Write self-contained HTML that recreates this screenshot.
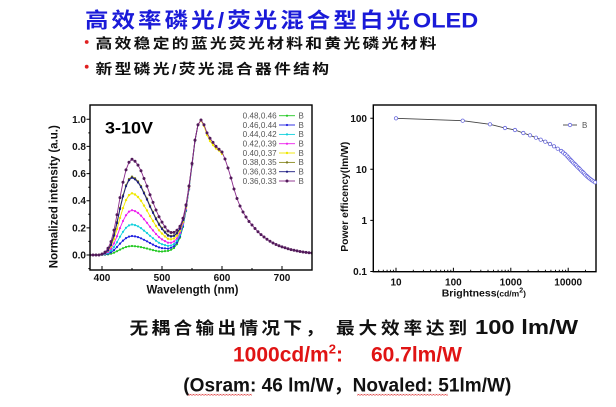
<!DOCTYPE html>
<html><head><meta charset="utf-8">
<style>
html,body{margin:0;padding:0;background:#fff;width:616px;height:407px;overflow:hidden}
svg{display:block}
text{font-family:"Liberation Sans","Noto Sans CJK SC",sans-serif}
.cj{font-family:"Liberation Sans","Noto Sans CJK SC",sans-serif;font-weight:bold}
polyline{fill:none;stroke-width:0.9}
</style></head>
<body>
<svg width="616" height="407" viewBox="0 0 616 407" xmlns="http://www.w3.org/2000/svg">
<defs>
<marker id="mG" markerUnits="userSpaceOnUse" markerWidth="4" markerHeight="4" refX="2" refY="2"><circle cx="2" cy="2" r="1.1" fill="#22c822"/></marker>
<marker id="mB" markerUnits="userSpaceOnUse" markerWidth="4" markerHeight="4" refX="2" refY="2"><circle cx="2" cy="2" r="1.1" fill="#1e1ee0"/></marker>
<marker id="mC" markerUnits="userSpaceOnUse" markerWidth="4" markerHeight="4" refX="2" refY="2"><circle cx="2" cy="2" r="1.1" fill="#10d0dc"/></marker>
<marker id="mM" markerUnits="userSpaceOnUse" markerWidth="4" markerHeight="4" refX="2" refY="2"><circle cx="2" cy="2" r="1.1" fill="#ee20ee"/></marker>
<marker id="mY" markerUnits="userSpaceOnUse" markerWidth="4" markerHeight="4" refX="2" refY="2"><circle cx="2" cy="2" r="1.2" fill="#f0e800"/></marker>
<marker id="mO" markerUnits="userSpaceOnUse" markerWidth="4" markerHeight="4" refX="2" refY="2"><circle cx="2" cy="2" r="1.2" fill="#7a7a20"/></marker>
<marker id="mN" markerUnits="userSpaceOnUse" markerWidth="4" markerHeight="4" refX="2" refY="2"><circle cx="2" cy="2" r="1.1" fill="#1a1a80"/></marker>
<marker id="mP" markerUnits="userSpaceOnUse" markerWidth="5" markerHeight="5" refX="2.5" refY="2.5"><circle cx="2.5" cy="2.5" r="1.5" fill="#521a5a"/></marker>
<marker id="mR" markerUnits="userSpaceOnUse" markerWidth="6" markerHeight="6" refX="3" refY="3"><circle cx="3" cy="3" r="1.7" fill="#fff" stroke="#6666dd" stroke-width="0.8"/></marker>
<clipPath id="cl"><rect x="90" y="105" width="222" height="165"/></clipPath>
<pattern id="wv" width="3" height="2" patternUnits="userSpaceOnUse"><path d="M0,1.5 L1.5,0.3 L3,1.5" fill="none" stroke="#e04848" stroke-width="0.7"/></pattern>
</defs>

<!-- Title -->
<text class="cj" transform="translate(85,27.5) scale(1.12,1)" font-size="21" letter-spacing="2.7" fill="#1a1ad8">高效率磷光/荧光混合型白光<tspan letter-spacing="0">OLED</tspan></text>

<!-- bullets -->
<circle cx="86.7" cy="42" r="1.9" fill="#e02020"/>
<text class="cj" transform="translate(95.5,48.5) scale(1.2,1)" font-size="14" letter-spacing="1.9" fill="#111">高效稳定的蓝光荧光材料和黄光磷光材料</text>
<circle cx="86.7" cy="66.7" r="1.9" fill="#e02020"/>
<text class="cj" transform="translate(95.5,74) scale(1.2,1)" font-size="14" letter-spacing="1.9" fill="#111">新型磷光/荧光混合器件结构</text>

<!-- ============ LEFT CHART ============ -->
<g clip-path="url(#cl)">
<polyline stroke="#22c822" marker-start="url(#mG)" marker-mid="url(#mG)" marker-end="url(#mG)" points="90,255 93,255 96,255 99,255 102,254.9 105,254.7 108,254.4 111,253.7 114,252.7 117,251.2 120,249.6 123,248.2 126,247 129,246.3 132,246 135,246.2 138,246.6 141,247.1 144,247.8 147,248.5 150,249.4 153,250.1 156,250.8 159,251.4 162,251.5 165,251.1 168,250.9 171,249.8 174,248 177,244.1 180,237.6 183,227 186,211 189,189.5 192,165.3 195,140.9 198,124.7"/>
<polyline stroke="#1e1ee0" marker-start="url(#mB)" marker-mid="url(#mB)" marker-end="url(#mB)" points="90,255 93,255 96,255 99,255 102,254.8 105,254.4 108,253.7 111,252.3 114,250.1 117,247 120,243.6 123,240.6 126,238.1 129,236.6 132,236 135,236.4 138,237.1 141,238.3 144,239.8 147,241.3 150,243 153,244.6 156,246.1 159,247.4 162,248.1 165,248.3 168,248.6 171,247.8 174,246.2 177,242.5 180,236.3 183,226 186,210.3 189,189.1 192,165.1 195,140.8 198,124.7"/>
<polyline stroke="#10d0dc" marker-start="url(#mC)" marker-mid="url(#mC)" marker-end="url(#mC)" points="90,255 93,255 96,255 99,255 102,254.7 105,254.1 108,252.9 111,250.7 114,247.1 117,242.2 120,236.7 123,231.8 126,227.8 129,225.4 132,224.5 135,225.1 138,226.3 141,228.1 144,230.6 147,233 150,235.8 153,238.2 156,240.7 159,242.8 162,244.2 165,245.1 168,245.9 171,245.5 174,244.1 177,240.6 180,234.8 183,224.8 186,209.4 189,188.6 192,164.8 195,140.7 198,124.7"/>
<polyline stroke="#ee20ee" marker-start="url(#mM)" marker-mid="url(#mM)" marker-end="url(#mM)" points="90,255 93,255 96,255 99,255 102,254.6 105,253.7 108,251.9 111,248.7 114,243.4 117,236.2 120,228.1 123,221 126,215.2 129,211.6 132,210.2 135,211.1 138,212.9 141,215.6 144,219.2 147,222.8 150,226.8 153,230.4 156,234 159,237.1 162,239.4 165,241.1 168,242.7 171,242.7 174,241.5 177,238.3 180,232.9 183,223.4 186,208.5 189,188.1 192,164.5 195,140.6 198,124.7"/>
<polyline stroke="#f0e800" marker-start="url(#mY)" marker-mid="url(#mY)" marker-end="url(#mY)" points="90,255 93,255 96,255 99,255 102,254.4 105,253.2 108,250.7 111,246.4 114,239 117,229.1 120,218 123,208.1 126,200.1 129,195.1 132,193.3 135,194.5 138,197 141,200.7 144,205.6 147,210.5 150,216.1 153,221 156,226 159,230.3 162,233.6 165,236.4 168,238.8 171,239.3 174,238.5 177,235.6 180,230.7 183,221.7 186,207.3 189,187.4 192,164.2 195,140.4 198,124.7 201,120.5 204,126 207,135 210,141 213,145 216,148.5 219,150.5 222,154"/>
<polyline stroke="#8a8a20" marker-start="url(#mO)" marker-mid="url(#mO)" marker-end="url(#mO)" points="90,255 93,255 96,255 99,255 102,254.2 105,252.7 108,249.5 111,244 114,234.6 117,222.1 120,208 123,195.5 126,185.3 129,179.1 132,176.7 135,178.3 138,181.4 141,186.1 144,192.4 147,198.6 150,205.7 153,211.9 156,218.2 159,223.7 162,228 165,231.7 168,235 171,236 174,235.5 177,233 180,228.5 183,220 186,206.1 189,186.7 192,163.9 195,140.2 198,124.7"/>
<polyline stroke="#1a1a80" marker-start="url(#mN)" marker-mid="url(#mN)" marker-end="url(#mN)" points="90,255 93,255 96,255 99,255 102,254.4 105,253.3 108,250.4 111,245 114,235.6 117,223.1 120,209 123,196.5 126,186.3 129,180.1 132,177.7 135,179.3 138,182.4 141,187.1 144,193.4 147,199.6 150,206.7 153,212.9 156,219.2 159,224.7 162,229 165,232.5 168,235.6 171,236.5 174,235.9 177,233.3 180,228.7 183,220.1 186,206.1 189,186.7 192,163.9 195,140.2 198,124.7"/>
<polyline stroke="#8a2a8a" stroke-width="1" marker-start="url(#mP)" marker-mid="url(#mP)" marker-end="url(#mP)" points="90,255 93,255 96,255 99,255 102,254 105,252.1 108,248.3 111,241.6 114,230.1 117,214.8 120,197.6 123,182.3 126,169.9 129,162.2 132,159.3 135,161.2 138,165.1 141,170.8 144,178.5 147,186.1 150,194.7 153,202.4 156,210 159,216.7 162,222.1 165,226.9 168,231 171,232.5 174,232.4 177,230.2 180,226.3 183,218.3 186,204.9 189,186 192,163.5 195,140.1 198,124.7 201,120 204,124.7 207,132.9 210,138.3 213,142.4 216,146.4 219,149.2 222,152 225,159 228,168 231,178 234,189 237,198.5 240,206 243,212 246,217 249,221.5 252,225 255,228.5 258,231.8 261,234.6 264,237 267,239.3 270,241.3 273,243 276,244.5 279,245.8 282,246.9 285,247.8 288,248.8 291,249.6 294,250.3 297,250.9 300,251.5 303,252 306,252.4 309,252.7 312,253"/>
</g>

<rect x="90" y="105" width="222" height="165" fill="none" stroke="#000" stroke-width="1.4"/>
<path d="M86.5,255H90M86.5,227.9H90M86.5,200.7H90M86.5,173.6H90M86.5,146.4H90M86.5,119.3H90M88.3,268.6H90M88.3,241.4H90M88.3,214.3H90M88.3,187.2H90M88.3,160H90M88.3,132.9H90M102,270V266M162,270V266M222,270V266M282,270V266M132,270V268M192,270V268M252,270V268" stroke="#000" stroke-width="1"/>

<g font-size="10" font-weight="bold" fill="#111" text-anchor="end">
<text x="86" y="122.8">1.0</text>
<text x="86" y="149.9">0.8</text>
<text x="86" y="177.1">0.6</text>
<text x="86" y="204.2">0.4</text>
<text x="86" y="231.4">0.2</text>
<text x="86" y="258.5">0.0</text>
</g>
<g font-size="10" font-weight="bold" fill="#111" text-anchor="middle">
<text x="102" y="281">400</text>
<text x="162" y="281">500</text>
<text x="222" y="281">600</text>
<text x="282" y="281">700</text>
</g>
<text x="146.5" y="293.5" font-size="11.5" font-weight="bold" fill="#111" textLength="92" lengthAdjust="spacingAndGlyphs">Wavelength (nm)</text>
<text transform="translate(57.3,196.7) rotate(-90)" x="-71.5" y="0" font-size="11.5" font-weight="bold" fill="#111" textLength="143" lengthAdjust="spacingAndGlyphs">Normalized intensity (a.u.)</text>
<text x="105" y="133.3" font-size="17" font-weight="bold" fill="#000" textLength="48" lengthAdjust="spacingAndGlyphs">3-10V</text>

<!-- left legend -->
<g font-size="8" fill="#555">
<text x="242.7" y="118.5" textLength="34" lengthAdjust="spacingAndGlyphs">0.48,0.46</text>
<text x="242.7" y="127.8" textLength="34" lengthAdjust="spacingAndGlyphs">0.46,0.44</text>
<text x="242.7" y="137.2" textLength="34" lengthAdjust="spacingAndGlyphs">0.44,0.42</text>
<text x="242.7" y="146.5" textLength="34" lengthAdjust="spacingAndGlyphs">0.42,0.39</text>
<text x="242.7" y="155.8" textLength="34" lengthAdjust="spacingAndGlyphs">0.40,0.37</text>
<text x="242.7" y="165.2" textLength="34" lengthAdjust="spacingAndGlyphs">0.38,0.35</text>
<text x="242.7" y="174.5" textLength="34" lengthAdjust="spacingAndGlyphs">0.36,0.33</text>
<text x="242.7" y="183.8" textLength="34" lengthAdjust="spacingAndGlyphs">0.36,0.33</text>
<text x="298.5" y="118.5">B</text>
<text x="298.5" y="127.8">B</text>
<text x="298.5" y="137.2">B</text>
<text x="298.5" y="146.5">B</text>
<text x="298.5" y="155.8">B</text>
<text x="298.5" y="165.2">B</text>
<text x="298.5" y="174.5">B</text>
<text x="298.5" y="183.8">B</text>
</g>
<polyline stroke="#22c822" marker-mid="url(#mG)" points="279,115.7 287,115.7 295,115.7"/>
<polyline stroke="#1e1ee0" marker-mid="url(#mB)" points="279,125 287,125 295,125"/>
<polyline stroke="#10d0dc" marker-mid="url(#mC)" points="279,134.4 287,134.4 295,134.4"/>
<polyline stroke="#ee20ee" marker-mid="url(#mM)" points="279,143.7 287,143.7 295,143.7"/>
<polyline stroke="#f0e800" marker-mid="url(#mY)" points="279,153 287,153 295,153"/>
<polyline stroke="#8a8a20" marker-mid="url(#mO)" points="279,162.4 287,162.4 295,162.4"/>
<polyline stroke="#1a1a80" marker-mid="url(#mN)" points="279,171.7 287,171.7 295,171.7"/>
<polyline stroke="#8a2a8a" marker-mid="url(#mP)" points="279,181 287,181 295,181"/>

<!-- ============ RIGHT CHART ============ -->
<rect x="373.3" y="105" width="222.7" height="166.7" fill="none" stroke="#000" stroke-width="1.4"/>
<path d="M370.3,118.2H373.3M370.3,169.3H373.3M370.3,220.4H373.3M370.3,271.5H373.3M396,271.7V267.7M453.4,271.7V267.7M510.8,271.7V267.7M568.2,271.7V267.7" stroke="#000" stroke-width="1"/>
<path d="M378.7,271.7V269.7M383.3,271.7V269.7M387.1,271.7V269.7M390.4,271.7V269.7M393.4,271.7V269.7M413.3,271.7V269.7M423.4,271.7V269.7M430.6,271.7V269.7M436.1,271.7V269.7M440.7,271.7V269.7M444.5,271.7V269.7M447.8,271.7V269.7M450.8,271.7V269.7M470.7,271.7V269.7M480.8,271.7V269.7M488,271.7V269.7M493.5,271.7V269.7M498.1,271.7V269.7M501.9,271.7V269.7M505.2,271.7V269.7M508.2,271.7V269.7M528.1,271.7V269.7M538.2,271.7V269.7M545.4,271.7V269.7M550.9,271.7V269.7M555.5,271.7V269.7M559.3,271.7V269.7M562.6,271.7V269.7M565.6,271.7V269.7M585.5,271.7V269.7" stroke="#000" stroke-width="0.9"/>

<polyline stroke="#444" stroke-width="0.8" marker-start="url(#mR)" marker-mid="url(#mR)" marker-end="url(#mR)" points="396,118.3 462.7,120.7 490,124.3 505,128 515,130 523.3,133 530,135.3 536,137.7 540.7,139.7 545.3,141.7 550,144 554,146.3 557.7,148.7 561.3,151 563.2,152.5 565,154 566.7,155.6 568.3,157.3 569.5,158.7 570.7,160 572,161.3 573.3,162.7 574.7,164 576,165.3 577.3,166.7 578.7,168 580,169.3 581.3,170.7 582.7,172 584,173.3 585.3,174.7 586.7,176 588,177.2 589.3,178.3 590.7,179.3 592,180.3 593.5,181.3 595,182.3"/>

<polyline stroke="#444" stroke-width="0.8" marker-mid="url(#mR)" points="563,125 570,125 577,125"/>
<text x="582" y="128" font-size="8" fill="#555">B</text>

<g font-size="10" font-weight="bold" fill="#111" text-anchor="end">
<text x="367" y="121.8">100</text>
<text x="367" y="172.9">10</text>
<text x="367" y="224">1</text>
<text x="367" y="275.1">0.1</text>
</g>
<g font-size="10" font-weight="bold" fill="#111" text-anchor="middle">
<text x="396" y="285.3">10</text>
<text x="453.4" y="285.3">100</text>
<text x="510.8" y="285.3">1000</text>
<text x="568.2" y="285.3">10000</text>
</g>
<text x="441.7" y="296.5" font-weight="bold" fill="#111"><tspan font-size="10.5">Brightness</tspan><tspan font-size="8.5">(cd/m</tspan><tspan font-size="7" dy="-4">2</tspan><tspan font-size="8.5" dy="4">)</tspan></text>
<text transform="translate(347.8,196.7) rotate(-90)" x="-55" y="0" font-size="10.3" font-weight="bold" fill="#111" textLength="110" lengthAdjust="spacingAndGlyphs">Power efficency(lm/W)</text>

<!-- ============ BOTTOM TEXT ============ -->
<text class="cj" transform="translate(129.5,334) scale(1.1,1)" font-size="17" letter-spacing="3" fill="#111">无耦合输出情况下，</text>
<text class="cj" transform="translate(336,334) scale(1.1,1)" font-size="17" letter-spacing="3.45" fill="#111">最大效率达到</text>
<text x="475" y="334" font-size="20" font-weight="bold" fill="#111" textLength="103" lengthAdjust="spacingAndGlyphs">100 lm/W</text>

<text x="233" y="361.3" font-size="21" font-weight="bold" fill="#e01414">1000cd/m<tspan font-size="13" dy="-8">2</tspan><tspan dy="8">:</tspan><tspan dx="28">60.7lm/W</tspan></text>

<text x="183.3" y="391.3" font-size="19" font-weight="bold" fill="#111" textLength="328" lengthAdjust="spacingAndGlyphs">(Osram: 46 lm/W，Novaled: 51lm/W)</text>
<rect x="188" y="393.5" width="64" height="2" fill="url(#wv)"/>
<rect x="357" y="393.5" width="91" height="2" fill="url(#wv)"/>
</svg>
</body></html>
